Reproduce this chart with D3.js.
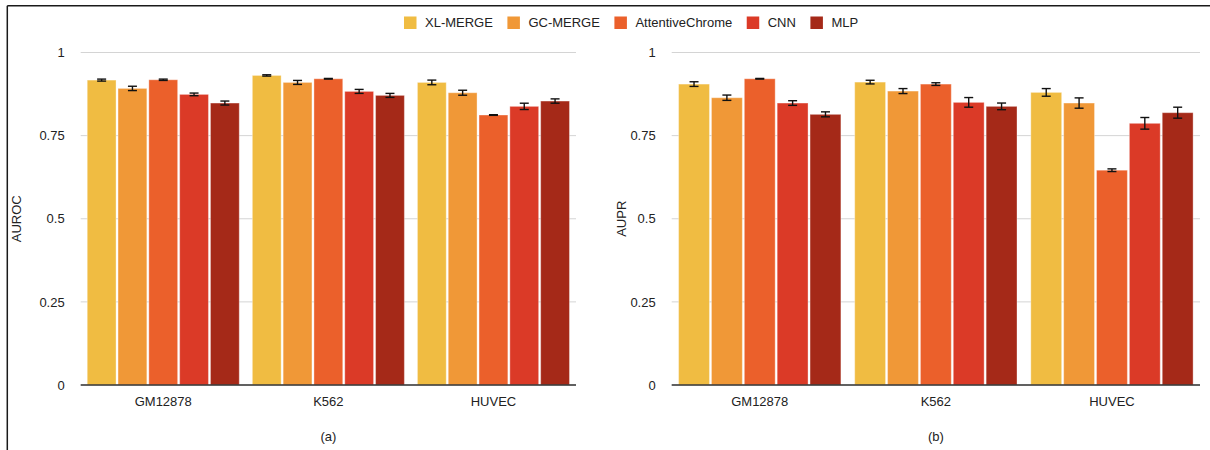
<!DOCTYPE html>
<html>
<head>
<meta charset="utf-8">
<script src="https://cdn.jsdelivr.net/npm/d3@7"></script>
<style>
  html, body { margin: 0; padding: 0; background: #fff; }
  svg { display: block; font-family: "Liberation Sans", Arial, Helvetica, sans-serif; }
</style>
</head>
<body>
<svg id="chart" width="1210" height="450"></svg>
<script>
// ---------- data ----------
const categories = ["GM12878", "K562", "HUVEC"];
const models = ["XL-MERGE", "GC-MERGE", "AttentiveChrome", "CNN", "MLP"];
const colors = ["#F0BC42", "#F09837", "#EB602B", "#DB3A27", "#A52918"];

// AUROC values [model][category]
const aurocXL   = [0.917, 0.931, 0.910];
const aurocGC   = [0.892, 0.910, 0.879];
const aurocAC   = [0.918, 0.921, 0.812];
const aurocCNN  = [0.874, 0.883, 0.838];
const aurocMLP  = [0.848, 0.871, 0.854];
const aurocErrXL  = [0.003, 0.002, 0.007];
const aurocErrGC  = [0.0065, 0.006, 0.0075];
const aurocErrAC  = [0.002, 0.001, 0.001];
const aurocErrCNN = [0.004, 0.006, 0.0095];
const aurocErrMLP = [0.006, 0.006, 0.0065];

// AUPR values
const auprXL   = [0.905, 0.911, 0.880];
const auprGC   = [0.864, 0.884, 0.848];
const auprAC   = [0.921, 0.905, 0.646];
const auprCNN  = [0.848, 0.850, 0.787];
const auprMLP  = [0.814, 0.838, 0.819];
const auprErrXL  = [0.007, 0.0055, 0.0115];
const auprErrGC  = [0.008, 0.0075, 0.0155];
const auprErrAC  = [0.001, 0.004, 0.004];
const auprErrCNN = [0.007, 0.0145, 0.0175];
const auprErrMLP = [0.0075, 0.01, 0.0165];

const yTicks = [0, 0.25, 0.5, 0.75, 1];
const yTickLabels = ["0", "0.25", "0.5", "0.75", "1"];

const panels = [
  { title: "AUROC", caption: "(a)", x0: 80.7, x1: 576,
    values: [aurocXL, aurocGC, aurocAC, aurocCNN, aurocMLP],
    errors: [aurocErrXL, aurocErrGC, aurocErrAC, aurocErrCNN, aurocErrMLP],
    titleX: 16 },
  { title: "AUPR", caption: "(b)", x0: 671.7, x1: 1200,
    values: [auprXL, auprGC, auprAC, auprCNN, auprMLP],
    errors: [auprErrXL, auprErrGC, auprErrAC, auprErrCNN, auprErrMLP],
    titleX: 621 }
];

// ---------- drawing ----------
const svg = d3.select("#chart");
const y = d3.scaleLinear().domain([0, 1]).range([385, 52.5]);

// frame (top & left)
svg.append("line").attr("x1", 7.3).attr("x2", 1210).attr("y1", 5.8).attr("y2", 5.8)
  .attr("stroke", "#1a1a1a").attr("stroke-width", 1.5);
svg.append("line").attr("x1", 7.3).attr("x2", 7.3).attr("y1", 5.8).attr("y2", 450)
  .attr("stroke", "#1a1a1a").attr("stroke-width", 1.5);

panels.forEach(p => {
  const g = svg.append("g");
  const x = d3.scaleBand().domain(categories).range([p.x0, p.x1])
    .paddingInner(0.067).paddingOuter(0.0335);
  const xi = d3.scaleBand().domain(models).range([0, x.bandwidth()]);

  // gridlines
  g.append("g").selectAll("line").data(yTicks).join("line")
    .attr("x1", p.x0).attr("x2", p.x1)
    .attr("y1", d => y(d)).attr("y2", d => y(d))
    .attr("stroke", "#d4d4d4").attr("stroke-width", 1);

  // y tick labels
  g.append("g").selectAll("text").data(yTicks).join("text")
    .attr("x", p.x0 - 16).attr("y", d => y(d)).attr("dy", "0.36em")
    .attr("text-anchor", "end").attr("font-size", 13).attr("fill", "#222")
    .text((d, i) => yTickLabels[i]);

  // bars
  const barData = [];
  models.forEach((m, mi) => categories.forEach((c, ci) => {
    barData.push({ m, c, mi, v: p.values[mi][ci], e: p.errors[mi][ci] });
  }));
  g.append("g").selectAll("rect").data(barData).join("rect")
    .attr("x", d => x(d.c) + xi(d.m) + 1)
    .attr("width", xi.bandwidth() - 2)
    .attr("y", d => y(d.v))
    .attr("height", d => y(0) - y(d.v))
    .attr("fill", d => colors[d.mi])
    .attr("stroke", "#fff").attr("stroke-opacity", 0.35).attr("stroke-width", 1);

  // error bars
  const eg = g.append("g").attr("stroke", "#111").attr("stroke-width", 1.4);
  barData.forEach(d => {
    const cx = x(d.c) + xi(d.m) + xi.bandwidth() / 2;
    const top = y(d.v + d.e), bot = y(d.v - d.e);
    eg.append("line").attr("x1", cx).attr("x2", cx).attr("y1", top).attr("y2", bot);
    eg.append("line").attr("x1", cx - 4.5).attr("x2", cx + 4.5).attr("y1", top).attr("y2", top);
    eg.append("line").attr("x1", cx - 4.5).attr("x2", cx + 4.5).attr("y1", bot).attr("y2", bot);
  });

  // x axis line
  g.append("line").attr("x1", p.x0).attr("x2", p.x1).attr("y1", y(0)).attr("y2", y(0))
    .attr("stroke", "#333").attr("stroke-width", 1.3);

  // category labels
  g.append("g").selectAll("text").data(categories).join("text")
    .attr("x", d => x(d) + x.bandwidth() / 2).attr("y", 406)
    .attr("text-anchor", "middle").attr("font-size", 13).attr("fill", "#222")
    .text(d => d);

  // y title
  g.append("text")
    .attr("transform", `translate(${p.titleX},${(y(0) + y(1)) / 2}) rotate(-90)`)
    .attr("text-anchor", "middle").attr("dy", "0.35em")
    .attr("font-size", 13).attr("fill", "#222").text(p.title);

  // caption
  g.append("text").attr("x", (p.x0 + p.x1) / 2).attr("y", 441)
    .attr("text-anchor", "middle").attr("font-size", 13).attr("fill", "#222")
    .text(p.caption);
});

// legend
const lg = svg.append("g");
let lx = 404;
models.forEach((m, i) => {
  lg.append("rect").attr("x", lx).attr("y", 16.5).attr("width", 12.5).attr("height", 12.5)
    .attr("fill", colors[i]);
  const t = lg.append("text").attr("x", lx + 21).attr("y", 27.2)
    .attr("font-size", 13).attr("fill", "#222").text(m);
  lx += 21 + t.node().getComputedTextLength() + 14.5;
});
</script>
</body>
</html>
